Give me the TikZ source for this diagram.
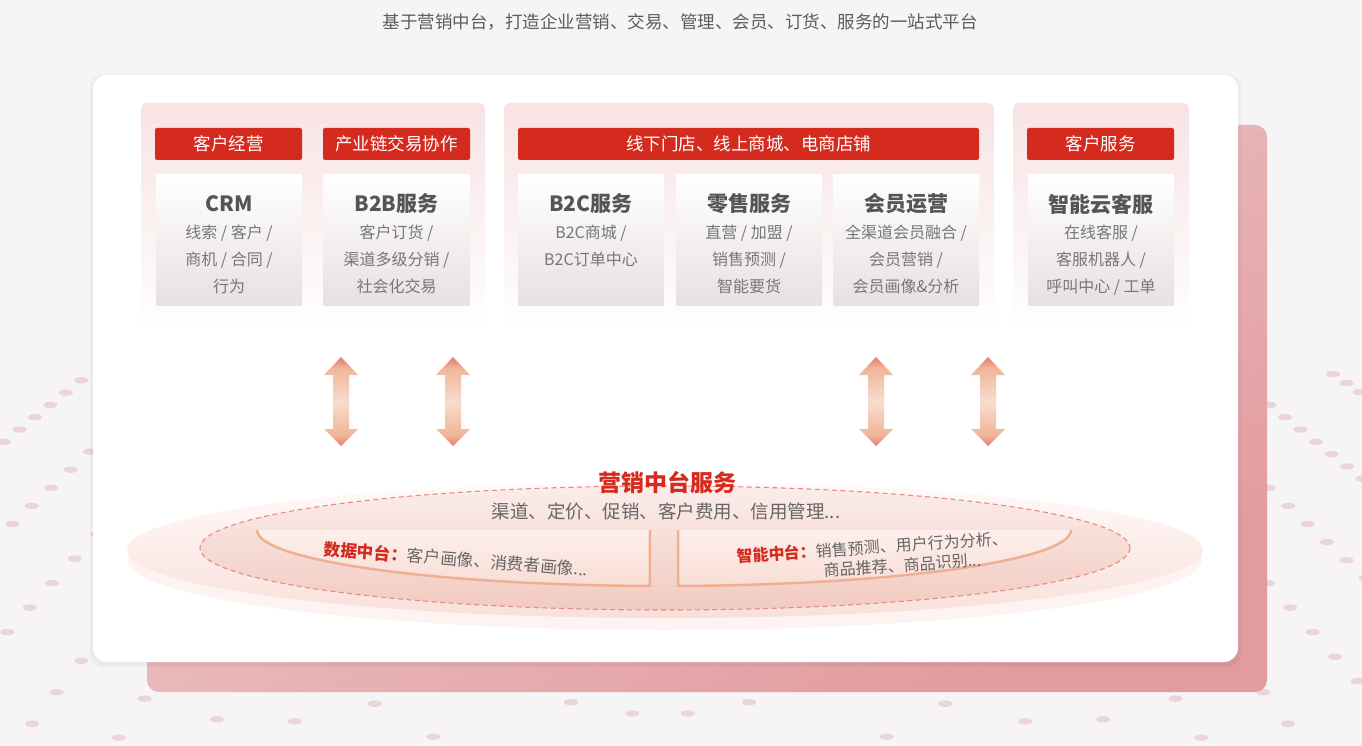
\documentclass[tikz,border=0pt]{standalone}
\usepackage{fontspec}
\setmainfont{Noto Sans CJK SC}
\definecolor{bggray}{HTML}{F7F4F5}
\definecolor{dotpink}{HTML}{ECD5D8}
\definecolor{hdrred}{HTML}{D52B1E}
\definecolor{ttlgray}{HTML}{555555}
\definecolor{txtgray}{HTML}{777777}
\definecolor{topgray}{HTML}{5C5C5C}
\definecolor{panelt}{HTML}{F8E3E3}
\definecolor{panelm}{HTML}{FBEBE3}
\definecolor{cardbot}{HTML}{E8E0E1}
\definecolor{pinkul}{HTML}{EECFD2}
\definecolor{pinklr}{HTML}{E29B9E}
\definecolor{arrred}{HTML}{E7776F}
\definecolor{arrpeach}{HTML}{F0B595}
\definecolor{arrlight}{HTML}{F8DCD0}
\definecolor{diskedge}{HTML}{FDF3F0}
\definecolor{disktop}{HTML}{FFFAF9}
\definecolor{diskbot}{HTML}{F9E0DA}
\definecolor{ringtop}{HTML}{FBEDEA}
\definecolor{ringbot}{HTML}{F2CAC0}
\definecolor{ringline}{HTML}{E78A8A}
\definecolor{traytop}{HTML}{FCEFEC}
\definecolor{traybot}{HTML}{F8DDD4}
\definecolor{trayline}{HTML}{EDB092}
\definecolor{midgray}{HTML}{666666}
\pgfdeclareverticalshading{arrowfill}{100bp}{color(0bp)=(arrred); color(25bp)=(arrred); color(31bp)=(arrpeach); color(50bp)=(arrlight); color(69bp)=(arrpeach); color(75bp)=(arrred); color(100bp)=(arrred)}
\tikzset{
  panel/.style={top color=panelt, middle color=panelm, bottom color=white, rounded corners=6pt},
  hdr/.style={fill=hdrred, text=white, minimum height=32pt, inner sep=0pt, rounded corners=2pt, font=\fontsize{17.5}{20}\selectfont},
  card/.style={minimum width=146pt, minimum height=130pt, inner sep=0pt, top color=white, bottom color=cardbot},
  cardttl/.style={text=ttlgray, inner sep=0pt, font=\bfseries\fontsize{21}{24}\selectfont},
  cardtxt/.style={text=txtgray, inner sep=0pt, align=center, font=\fontsize{16}{27}\selectfont},
  traytxt/.style={text=midgray, inner sep=0pt, font=\fontsize{16}{20}\selectfont},
}
\begin{document}
\begin{tikzpicture}[x=1pt,y=-1pt]
\useasboundingbox (0,0) rectangle (1362,746);
\fill[bggray] (0,0) rectangle (1362,746);

% dotted floor
\begin{scope}
\clip (0,370) rectangle (1362,746);
\foreach \a in {92,96.5,...,146} {
  \pgfmathsetmacro\st{max(16,22+(140-\a)*1.5)}
  \foreach \k in {0,...,30} {
    \fill[dotpink] (660,-80) ++(\a:{700+\k*\st}) ellipse [x radius=7, y radius=3.2];
    \fill[dotpink] (660,-80) ++({180-\a}:{700+\k*\st}) ellipse [x radius=7, y radius=3.2];
  }
}
\end{scope}

\node[text=topgray, font=\fontsize{17.5}{20}\selectfont] (title) at (680,22) {基于营销中台，打造企业营销、交易、管理、会员、订货、服务的一站式平台};

% cards behind
\shade[top color=pinkul, bottom color=pinklr, shading angle=30, rounded corners=12pt] (147,125) rectangle (1267,692);
\foreach \s in {1,2,3,4}
  \fill[black, opacity=0.01, rounded corners=14pt] (93-\s,75-\s+2) rectangle (1238+\s,662+\s+2);
\fill[white, rounded corners=14pt] (93,75) rectangle (1238,662);

% panels
\shade[panel] (141,103) rectangle (485,332);
\shade[panel] (504,103) rectangle (994,332);
\shade[panel] (1013,103) rectangle (1189,332);

\node[hdr, minimum width=147pt] (h_kh) at (228.5,144) {客户经营};
\node[hdr, minimum width=147pt] (h_cy) at (396.5,144) {产业链交易协作};
\node[hdr, minimum width=461pt] (h_xx) at (748.5,144) {线下门店、线上商城、电商店铺};
\node[hdr, minimum width=147pt] (h_kf) at (1100.5,144) {客户服务};

\node[card] (c_crm) at (229,240) {};
\node[card] (c_b2b) at (396.5,240) {};
\node[card] (c_b2c) at (591,240) {};
\node[card] (c_ls) at (749,240) {};
\node[card] (c_hy) at (906,240) {};
\node[card] (c_kf) at (1101,240) {};

\node[cardttl] (t_crm) at (229,204) {CRM};
\node[cardttl] (t_b2b) at (396.5,204) {B2B服务};
\node[cardttl] (t_b2c) at (591,204) {B2C服务};
\node[cardttl] (t_ls) at (749,204) {零售服务};
\node[cardttl] (t_hy) at (906,204) {会员运营};
\node[cardttl] (t_kf) at (1101,204) {智能云客服};

\node[cardtxt, anchor=north] (l_crm) at (229,225) {线索 / 客户 /\\商机 / 合同 /\\行为};
\node[cardtxt, anchor=north] (l_b2b) at (396.5,225) {客户订货 /\\渠道多级分销 /\\社会化交易};
\node[cardtxt, anchor=north] (l_b2c) at (591,225) {B2C商城 /\\B2C订单中心};
\node[cardtxt, anchor=north] (l_ls) at (749,225) {直营 / 加盟 /\\销售预测 /\\智能要货};
\node[cardtxt, anchor=north] (l_hy) at (906,225) {全渠道会员融合 /\\会员营销 /\\会员画像\&分析};
\node[cardtxt, anchor=north] (l_kf) at (1101,225) {在线客服 /\\客服机器人 /\\呼叫中心 / 工单};

% double arrows
\foreach \ax [count=\i] in {341,453,876,988} {
  \coordinate (arr\i) at (\ax,357);
  \shade[shading=arrowfill] (arr\i) -- ++(17,18) -- ++(-9,0) -- ++(0,54) -- ++(9,0) -- ++(-17,17)
    -- ++(-17,-17) -- ++(9,0) -- ++(0,-54) -- ++(-9,0) -- cycle;
}

% platform
\fill[diskedge] (665,560) ellipse [x radius=537, y radius=70];
\shade[top color=disktop, bottom color=diskbot] (665,550) ellipse [x radius=538, y radius=68];
\shade[top color=ringtop, bottom color=ringbot] (665,548) ellipse [x radius=465, y radius=62];
\draw[ringline, line width=1.1pt, dash pattern=on 5pt off 3.5pt] (665,548) ellipse [x radius=465, y radius=62];

\shade[top color=traytop, bottom color=traybot] (257,530) arc [start angle=180, end angle=92, x radius=407, y radius=56] -- (650,530) -- cycle;
\shade[top color=traytop, bottom color=traybot] (1071,530) arc [start angle=0, end angle=88, x radius=407, y radius=56] -- (678,530) -- cycle;
\draw[trayline, line width=2.5pt] (257,530) arc [start angle=180, end angle=92, x radius=407, y radius=56] -- (650,530);
\draw[trayline, line width=2.5pt] (1071,530) arc [start angle=0, end angle=88, x radius=407, y radius=56] -- (678,530);

\node[text=hdrred, font=\bfseries\fontsize{23}{26}\selectfont] (p_ttl) at (667,483) {营销中台服务};
\node[text=midgray, font=\fontsize{18.5}{22}\selectfont] (p_sub) at (666,511) {渠道、定价、促销、客户费用、信用管理...};

\node[traytxt, font=\fontsize{16.7}{20}\selectfont, rotate=-4.5] (d_txt) at (456,559) {{\color{hdrred}\bfseries 数据中台：}客户画像、消费者画像...};
\node[traytxt, align=left, rotate=4] (a_txt) at (873,557) {{\color{hdrred}\bfseries 智能中台：}销售预测、用户行为分析、\\\hspace*{5.4em}商品推荐、商品识别...};
\end{tikzpicture}
\end{document}
